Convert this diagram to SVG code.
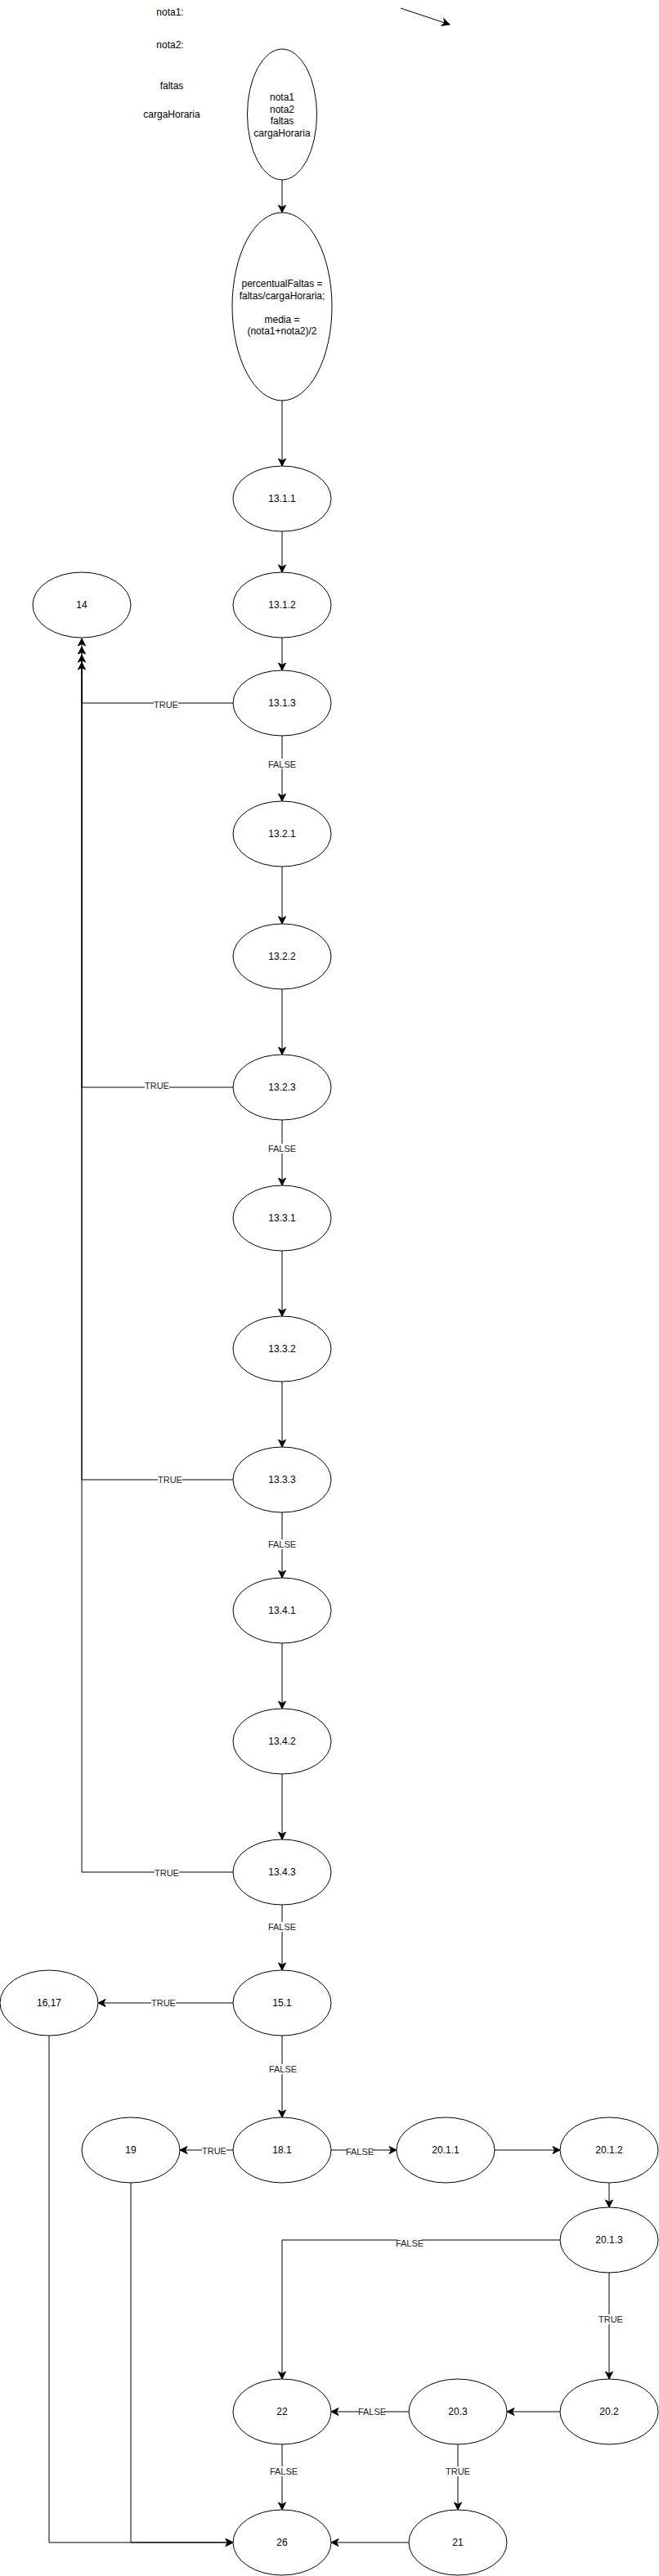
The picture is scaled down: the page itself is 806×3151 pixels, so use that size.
<svg xmlns="http://www.w3.org/2000/svg" width="806" height="3151" viewBox="0 0 806 3151">
<style>
.n ellipse{fill:#fff;stroke:#000;stroke-width:1}
.t{font-family:"Liberation Sans",Arial,sans-serif;font-size:12px;fill:#000;text-anchor:middle}
.e{fill:none;stroke:#000;stroke-width:1}
.lb{font-family:"Liberation Sans",Arial,sans-serif;font-size:11px;fill:#222;text-anchor:middle}
.bg{fill:#fff}
</style>
<defs>
<marker id="a" markerUnits="userSpaceOnUse" markerWidth="12" markerHeight="12" viewBox="-10 -6 12 12" refX="0" refY="0" orient="auto">
<path d="M0,0 L-9,-4.5 L-6.5,0 L-9,4.5 Z" fill="#000" stroke="#000" stroke-width="1"/>
</marker>
</defs>

<g id="labels-free">
<text class="t" x="208" y="19">nota1:</text>
<text class="t" x="208" y="59">nota2:</text>
<text class="t" x="210" y="109">faltas</text>
<text class="t" x="210" y="144">cargaHoraria</text>
</g>

<g id="connectors">
<path class="e" d="M490,10 L550,30" marker-end="url(#a)"/>
<path class="e" d="M345,220 L345,260" marker-end="url(#a)"/>
<path class="e" d="M345,490 L345,570" marker-end="url(#a)"/>
<path class="e" d="M345,650 L345,700" marker-end="url(#a)"/>
<path class="e" d="M345,780 L345,820" marker-end="url(#a)"/>
<path class="e" d="M345,900 L345,980" marker-end="url(#a)"/>
<path class="e" d="M285,860 L100,860 L100,810" marker-end="url(#a)"/>
<path class="e" d="M345,1060 L345,1130" marker-end="url(#a)"/>
<path class="e" d="M345,1210 L345,1290" marker-end="url(#a)"/>
<path class="e" d="M285,1330 L100,1330 L100,801" marker-end="url(#a)"/>
<path class="e" d="M345,1370 L345,1450" marker-end="url(#a)"/>
<path class="e" d="M345,1530 L345,1610" marker-end="url(#a)"/>
<path class="e" d="M345,1690 L345,1770" marker-end="url(#a)"/>
<path class="e" d="M285,1810 L100,1810 L100,791" marker-end="url(#a)"/>
<path class="e" d="M345,1850 L345,1930" marker-end="url(#a)"/>
<path class="e" d="M345,2010 L345,2090" marker-end="url(#a)"/>
<path class="e" d="M345,2170 L345,2250" marker-end="url(#a)"/>
<path class="e" d="M285,2290 L100,2290 L100,781" marker-end="url(#a)"/>
<path class="e" d="M345,2330 L345,2410" marker-end="url(#a)"/>
<path class="e" d="M285,2450 L120,2450" marker-end="url(#a)"/>
<path class="e" d="M345,2490 L345,2590" marker-end="url(#a)"/>
<path class="e" d="M285,2630 L220,2630" marker-end="url(#a)"/>
<path class="e" d="M405,2630 L485,2630" marker-end="url(#a)"/>
<path class="e" d="M605,2630 L685,2630" marker-end="url(#a)"/>
<path class="e" d="M745,2670 L745,2700" marker-end="url(#a)"/>
<path class="e" d="M685,2740 L345,2740 L345,2910" marker-end="url(#a)"/>
<path class="e" d="M745,2780 L745,2910" marker-end="url(#a)"/>
<path class="e" d="M685,2950 L620,2950" marker-end="url(#a)"/>
<path class="e" d="M500,2950 L405,2950" marker-end="url(#a)"/>
<path class="e" d="M560,2990 L560,3070" marker-end="url(#a)"/>
<path class="e" d="M345,2990 L345,3070" marker-end="url(#a)"/>
<path class="e" d="M500,3110 L405,3110" marker-end="url(#a)"/>
<path class="e" d="M60,2490 L60,3110 L285,3110" marker-end="url(#a)"/>
<path class="e" d="M160,2670 L160,3110 L285,3110" marker-end="url(#a)"/>

<rect class="bg" x="330" y="928" width="30" height="12"/><text class="lb" x="345" y="939">FALSE</text>
<rect class="bg" x="188" y="856" width="30" height="12"/><text class="lb" x="203" y="866">TRUE</text>
<rect class="bg" x="177" y="1322" width="30" height="12"/><text class="lb" x="192" y="1332">TRUE</text>
<rect class="bg" x="330" y="1399" width="30" height="12"/><text class="lb" x="345" y="1409">FALSE</text>
<rect class="bg" x="193" y="1804" width="30" height="12"/><text class="lb" x="208" y="1814">TRUE</text>
<rect class="bg" x="330" y="1883" width="30" height="12"/><text class="lb" x="345" y="1893">FALSE</text>
<rect class="bg" x="189" y="2285" width="30" height="12"/><text class="lb" x="204" y="2295">TRUE</text>
<rect class="bg" x="330" y="2351" width="30" height="12"/><text class="lb" x="345" y="2361">FALSE</text>
<rect class="bg" x="185" y="2444" width="30" height="12"/><text class="lb" x="200" y="2454">TRUE</text>
<rect class="bg" x="331" y="2525" width="30" height="12"/><text class="lb" x="346" y="2535">FALSE</text>
<rect class="bg" x="247" y="2625" width="30" height="12"/><text class="lb" x="262" y="2635">TRUE</text>
<rect class="bg" x="425" y="2626" width="30" height="12"/><text class="lb" x="440" y="2636">FALSE</text>
<rect class="bg" x="486" y="2738" width="30" height="12"/><text class="lb" x="501" y="2748">FALSE</text>
<rect class="bg" x="732" y="2831" width="30" height="12"/><text class="lb" x="747" y="2841">TRUE</text>
<rect class="bg" x="440" y="2944" width="30" height="12"/><text class="lb" x="455" y="2954">FALSE</text>
<rect class="bg" x="545" y="3017" width="30" height="12"/><text class="lb" x="560" y="3027">TRUE</text>
<rect class="bg" x="332" y="3017" width="30" height="12"/><text class="lb" x="347" y="3027">FALSE</text>
</g>

<g id="n-inputs" class="n"><ellipse cx="345" cy="140" rx="42.5" ry="80"/>
<text class="t" x="345" y="123">nota1</text><text class="t" x="345" y="137.5">nota2</text><text class="t" x="345" y="152">faltas</text><text class="t" x="345" y="166.5">cargaHoraria</text></g>
<g id="n-calc" class="n"><ellipse cx="345" cy="375" rx="61" ry="115"/>
<text class="t" x="345" y="351">percentualFaltas =</text><text class="t" x="345" y="365.5">faltas/cargaHoraria;</text><text class="t" x="345" y="394.5">media =</text><text class="t" x="345" y="409">(nota1+nota2)/2</text></g>
<g id="n-13-1-1" class="n"><ellipse cx="345" cy="610" rx="60" ry="40"/><text class="t" x="345" y="614">13.1.1</text></g>
<g id="n-13-1-2" class="n"><ellipse cx="345" cy="740" rx="60" ry="40"/><text class="t" x="345" y="744">13.1.2</text></g>
<g id="n-14" class="n"><ellipse cx="100" cy="740" rx="60" ry="40"/><text class="t" x="100" y="744">14</text></g>
<g id="n-13-1-3" class="n"><ellipse cx="345" cy="860" rx="60" ry="40"/><text class="t" x="345" y="864">13.1.3</text></g>
<g id="n-13-2-1" class="n"><ellipse cx="345" cy="1020" rx="60" ry="40"/><text class="t" x="345" y="1024">13.2.1</text></g>
<g id="n-13-2-2" class="n"><ellipse cx="345" cy="1170" rx="60" ry="40"/><text class="t" x="345" y="1174">13.2.2</text></g>
<g id="n-13-2-3" class="n"><ellipse cx="345" cy="1330" rx="60" ry="40"/><text class="t" x="345" y="1334">13.2.3</text></g>
<g id="n-13-3-1" class="n"><ellipse cx="345" cy="1490" rx="60" ry="40"/><text class="t" x="345" y="1494">13.3.1</text></g>
<g id="n-13-3-2" class="n"><ellipse cx="345" cy="1650" rx="60" ry="40"/><text class="t" x="345" y="1654">13.3.2</text></g>
<g id="n-13-3-3" class="n"><ellipse cx="345" cy="1810" rx="60" ry="40"/><text class="t" x="345" y="1814">13.3.3</text></g>
<g id="n-13-4-1" class="n"><ellipse cx="345" cy="1970" rx="60" ry="40"/><text class="t" x="345" y="1974">13.4.1</text></g>
<g id="n-13-4-2" class="n"><ellipse cx="345" cy="2130" rx="60" ry="40"/><text class="t" x="345" y="2134">13.4.2</text></g>
<g id="n-13-4-3" class="n"><ellipse cx="345" cy="2290" rx="60" ry="40"/><text class="t" x="345" y="2294">13.4.3</text></g>
<g id="n-15-1" class="n"><ellipse cx="345" cy="2450" rx="60" ry="40"/><text class="t" x="345" y="2454">15.1</text></g>
<g id="n-16-17" class="n"><ellipse cx="60" cy="2450" rx="60" ry="40"/><text class="t" x="60" y="2454">16,17</text></g>
<g id="n-18-1" class="n"><ellipse cx="345" cy="2630" rx="60" ry="40"/><text class="t" x="345" y="2634">18.1</text></g>
<g id="n-19" class="n"><ellipse cx="160" cy="2630" rx="60" ry="40"/><text class="t" x="160" y="2634">19</text></g>
<g id="n-20-1-1" class="n"><ellipse cx="545" cy="2630" rx="60" ry="40"/><text class="t" x="545" y="2634">20.1.1</text></g>
<g id="n-20-1-2" class="n"><ellipse cx="745" cy="2630" rx="60" ry="40"/><text class="t" x="745" y="2634">20.1.2</text></g>
<g id="n-20-1-3" class="n"><ellipse cx="745" cy="2740" rx="60" ry="40"/><text class="t" x="745" y="2744">20.1.3</text></g>
<g id="n-20-2" class="n"><ellipse cx="745" cy="2950" rx="60" ry="40"/><text class="t" x="745" y="2954">20.2</text></g>
<g id="n-20-3" class="n"><ellipse cx="560" cy="2950" rx="60" ry="40"/><text class="t" x="560" y="2954">20.3</text></g>
<g id="n-22" class="n"><ellipse cx="345" cy="2950" rx="60" ry="40"/><text class="t" x="345" y="2954">22</text></g>
<g id="n-21" class="n"><ellipse cx="560" cy="3110" rx="60" ry="40"/><text class="t" x="560" y="3114">21</text></g>
<g id="n-26" class="n"><ellipse cx="345" cy="3110" rx="60" ry="40"/><text class="t" x="345" y="3114">26</text></g>
</svg>
